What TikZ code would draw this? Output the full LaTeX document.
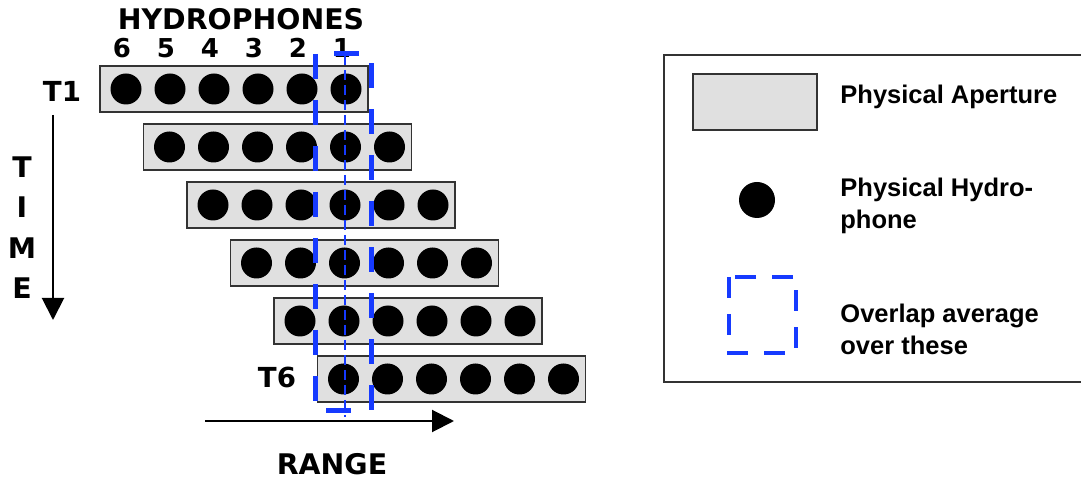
\documentclass[tikz,border=0pt]{standalone}
\usepackage{fontspec}
\setmainfont{Liberation Sans}
\newfontfamily\heavyfont{DejaVu Sans}
\usetikzlibrary{arrows.meta}
\definecolor{apgray}{RGB}{224,224,224}
\definecolor{ovblue}{RGB}{22,58,255}

\begin{document}
\begin{tikzpicture}[x=0.5pt, y=-0.5pt,
  aperture/.style = {draw=black!80, fill=apgray, line width=0.7pt, minimum width=134pt, minimum height=23pt, inner sep=0pt},
  phone/.style = {fill=black, circle, minimum size=15.5pt, inner sep=0pt},
  big/.style = {font=\heavyfont\bfseries\fontsize{14.2}{16}\selectfont, inner sep=0pt},
  num/.style = {font=\heavyfont\bfseries\fontsize{13}{15}\selectfont, inner sep=0pt},
  key/.style = {font=\bfseries\fontsize{12.75}{16}\selectfont, align=left, anchor=west, inner sep=0pt},
  overlap/.style = {draw=ovblue, line width=2.5pt, dash pattern=on 12.5pt off 10.5pt},
  axis/.style = {line width=1pt, -{Triangle[length=11pt,width=11pt]}}]

\useasboundingbox (0,0) rectangle (1081,480);

% one aperture per time step, six hydrophones in each
\foreach \r in {1,...,6} {
  \node[aperture] (ap\r) at ({234+43.5*(\r-1)}, {89+58*(\r-1)}) {};
  \foreach \k in {1,...,6}
    \node[phone] (ph\r\k) at ({126+43.5*(\r-1)+44*(\k-1)}, {89+58*(\r-1)}) {};
}

\node[big] (hyd) at (241,19) {HYDROPHONES};
\foreach \n [count=\k] in {6,5,4,3,2,1}
  \node[num] (num\n) at ({122+44*(\k-1)}, 48) {\n};
\node[big, font=\heavyfont\bfseries\fontsize{13.8}{16}\selectfont] (t1) at (62,91) {T1};
\node[big, font=\heavyfont\bfseries\fontsize{13.8}{16}\selectfont] (t6) at (277,377) {T6};

% time axis
\foreach \c [count=\i] in {T,I,M,E}
  \node[big] (time\i) at (22, {167+40.5*(\i-1)}) {\c};
\coordinate (tstart) at (53,115);
\coordinate (tend) at (53,320);
\draw[axis] (tstart) -- (tend);

% range axis
\coordinate (rstart) at (205,421);
\coordinate (rend) at (454,421);
\draw[axis] (rstart) -- (rend);
\node[big] (range) at (332,464) {RANGE};

% overlap window
\draw[overlap] (315,54) rectangle (371,411);
\draw[ovblue, line width=1pt, dash pattern=on 5pt off 2.5pt] (345,55) -- (345,417);

% key
\draw[black!80, line width=0.8pt] (664,55) rectangle (1095,382);
\node[aperture, minimum width=62pt, minimum height=28pt] (keyap) at (755,102) {};
\node[key] (keyaptxt) at (840,97) {Physical Aperture};
\node[phone, minimum size=18pt] (keyph) at (757,200) {};
\node[key] (keyphtxt) at (840,206) {Physical Hydro-\\phone};
\draw[overlap, line width=2pt, dash pattern=on 10.5pt off 8pt] (729,277) rectangle (796,353);
\node[key] (keyovtxt) at (840,329) {Overlap average\\over these};
\end{tikzpicture}
\end{document}
